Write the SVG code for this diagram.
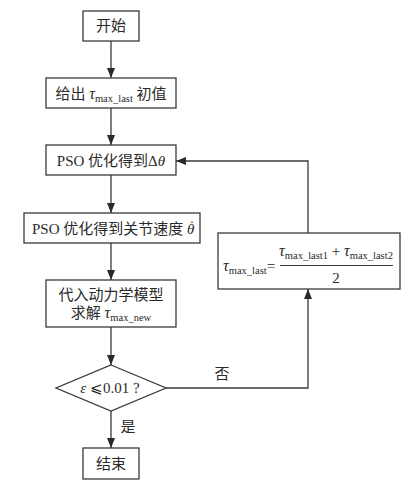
<svg xmlns="http://www.w3.org/2000/svg" width="416" height="484" viewBox="0 0 416 484">
<style>
.box{fill:#fff;stroke:#3a3a3a;stroke-width:1.3}
.ln{fill:none;stroke:#3a3a3a;stroke-width:1.3}
text{font-family:"Liberation Serif","Noto Sans CJK SC",serif;font-size:15px;fill:#2a2a2a}
.c{text-anchor:middle}
.i{font-style:italic}
.s{font-size:10.5px}
.t{font-style:italic;font-size:16px}
</style>
<defs>
<marker id="ah" markerWidth="10" markerHeight="8" refX="10" refY="4" orient="auto" markerUnits="userSpaceOnUse">
<path d="M0,0 L10,4 L0,8 Z" fill="#2a2a2a"/>
</marker>
</defs>
<rect width="416" height="484" fill="#fff"/>
<g id="connectors">
<line class="ln" x1="111" y1="41" x2="111" y2="78" marker-end="url(#ah)"/>
<line class="ln" x1="111" y1="108" x2="111" y2="145" marker-end="url(#ah)"/>
<line class="ln" x1="111" y1="175" x2="111" y2="213" marker-end="url(#ah)"/>
<line class="ln" x1="111" y1="243" x2="111" y2="280" marker-end="url(#ah)"/>
<line class="ln" x1="111" y1="327" x2="111" y2="365" marker-end="url(#ah)"/>
<line class="ln" x1="111" y1="411" x2="111" y2="448" marker-end="url(#ah)"/>
<polyline class="ln" points="166,388 308,388 308,289" marker-end="url(#ah)"/>
<polyline class="ln" points="308,233 308,161 176,161" marker-end="url(#ah)"/>
<text x="222" y="379" class="c">否</text>
<text x="128" y="432" class="c">是</text>
</g>
<g id="start">
<rect class="box" x="83" y="11" width="56" height="30"/>
<text x="111" y="31" class="c">开始</text>
</g>
<g id="init">
<rect class="box" x="46" y="78" width="130" height="30"/>
<text x="111" y="99" class="c">给出 <tspan class="t">τ</tspan><tspan class="s" dy="3">max_last</tspan><tspan dy="-3"> 初值</tspan></text>
</g>
<g id="pso1">
<rect class="box" x="46" y="145" width="130" height="30"/>
<text x="111" y="166" class="c">PSO 优化得到Δ<tspan class="i">θ</tspan></text>
</g>
<g id="pso2">
<rect class="box" x="24" y="213" width="176" height="30"/>
<text x="32" y="234">PSO 优化得到关节速度 <tspan class="i">θ</tspan><tspan class="i" dx="-6" dy="-3">˙</tspan></text>
</g>
<g id="dyn">
<rect class="box" x="46" y="280" width="130" height="47"/>
<text x="111" y="300" class="c">代入动力学模型</text>
<text x="111" y="318" class="c">求解 <tspan class="t">τ</tspan><tspan class="s" dy="3">max_new</tspan></text>
</g>
<g id="decision">
<polygon class="box" points="111,365 166,388 111,411 56,388"/>
<text x="110" y="393" class="c"><tspan class="i">ε</tspan> ⩽0.01 ?</text>
</g>
<g id="end">
<rect class="box" x="83" y="448" width="56" height="31"/>
<text x="111" y="469" class="c">结束</text>
</g>
<g id="update">
<rect class="box" x="218" y="233" width="182" height="56"/>
<text x="223" y="271"><tspan class="t">τ</tspan><tspan class="s" dy="3">max_last</tspan><tspan dy="-3">=</tspan></text>
<line class="ln" x1="280" y1="265.5" x2="393" y2="265.5" style="stroke-width:1"/>
<text x="336" y="256" class="c"><tspan class="t">τ</tspan><tspan class="s" dy="3">max_last1</tspan><tspan dy="-3"> + </tspan><tspan class="t">τ</tspan><tspan class="s" dy="3">max_last2</tspan></text>
<text x="336" y="283" class="c">2</text>
</g>
</svg>
